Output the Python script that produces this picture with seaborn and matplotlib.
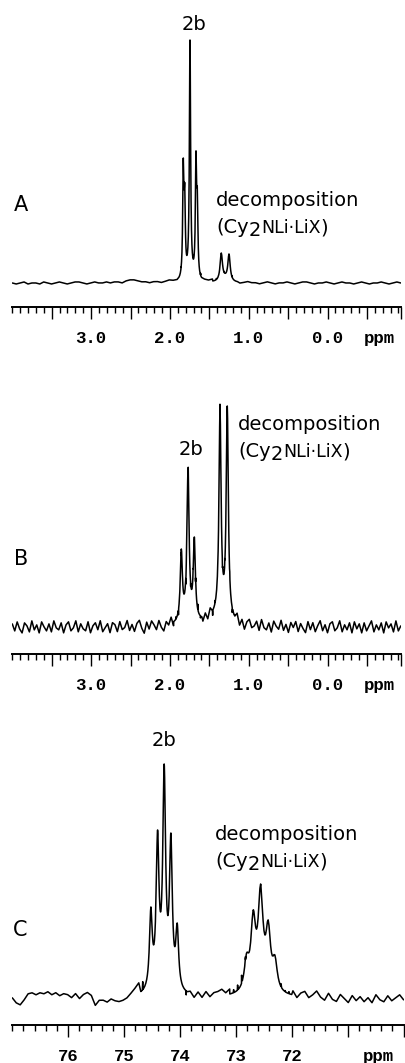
import numpy as np
import pandas as pd
import matplotlib
matplotlib.use("Agg")
import matplotlib.pyplot as plt
from matplotlib.transforms import IdentityTransform
import seaborn as sns

# --- Spectrum A (1H, ppm) ---
a_peak_ppm = [1.830, 1.812, 1.745, 1.669, 1.652, 1.348, 1.250]
a_peak_top = [125, 100, 243, 132, 95, 30, 29]
a_peak_hw = [0.009, 0.009, 0.009, 0.009, 0.009, 0.018, 0.018]
a_broad_ppm = [1.75, 1.30]
a_broad_h = [6, 3]
a_broad_hw = [0.05, 0.05]
a_noise = [0, -1, 0, 1, -1, 0, 0, -1, 1, 0,
           -1, 0, 1, 0, -1, 0, 1, 1, 0, -1,
           0, 1, 0, 0, 1, 0, 1, 1, 0,
           2, 3, 3, 2,
           1, 1, 0, 1, 1, 0, 1, 2,
           1, 0, 1, 0, 1,
           2, 1, 2, 1, 1, 2, 1, 1,
           1, 0, 1, 0, -1, 0, 1, 0, 0, -1, 0, 1, 0, -1, 0, 0, 1, 0, -1, 0,
           1, 1, 0, -1, 0, 0, 1, 0, -1, 0, 1, 0, 0, -1, 0, 1, 0, -1, 0, 0,
           1, 0, -1, 0, 1, 0]

# --- Spectrum B (1H, ppm) ---
b_peak_ppm = [1.855, 1.770, 1.690, 1.364, 1.272]
b_peak_top = [78, 158, 90, 218, 221]
b_peak_hw = [0.016, 0.016, 0.016, 0.016, 0.016]
b_broad_ppm = [1.78, 1.40]
b_broad_h = [6, 9]
b_broad_hw = [0.08, 0.18]
b_noise = [3, -4, 5, -2, -6, 4, 1, -5, 6, -3,
           2, -6, 5, 0, -4, 3, -5, 6, -1, -3,
           4, -6, 2, 5, -4, -1, 6, -5, 3, -2,
           -4, 5, -6, 1, 4, -3, 6, -5, -1, 3,
           -6, 4, 2, -5, 5, -3, -1, 6, -4, 2,
           -5, 3, 6, -2, -7, 4, -3, 5, 1, -4,
           5, -2, -6, 3, -1, 6, -4, 2, -5, 4,
           1, -6, 5, -3, 3, -5, 6, -2, -4, 4,
           -3, 6, -5, 2, -1, 5, -6, 3, -2, 4,
           -5, 1, 6, -4, 3, -6, 2, 5, -3, -1,
           4, -5, 6, -2, -4, 3, -6, 5, 0, -3,
           6, -4, 2, -6, 4, -1, 5, -5, 3, -2,
           -6, 5, -3, 4, -5, 1, 6, -4, 2, -6,
           3, 5, -4, -1, 6, -5, 2, -3, 4, -6,
           5, -2, 3, -6, 4, -4, 1, 6, -5, 2,
           -3, 4, -6, 5, -1, 3, -5, 6, -4, 1]

# --- Spectrum C (13C, ppm) ---
c_peak_ppm = [74.521, 74.401, 74.283, 74.163, 74.050,
              72.809, 72.690, 72.558, 72.422, 72.302]
c_peak_top = [91, 168, 234, 165, 75, 45, 88, 114, 78, 43]
c_peak_hw = [0.03] * 5 + [0.05] * 5
c_broad_ppm = [74.30, 72.56]
c_broad_h = [10, 10]
c_broad_hw = [0.15, 0.15]
c_noise = [0, -5, -7, -2, 4, 5, 3, 5, 4, 6, 3, 5, 2, 4,
           3, 0, 4, -1, 3, 5, 2, -8, -3, -3, -5, -2, -4, -5,
           -4, -2, 2, 6, 10, 8,
           0, 0, 0, 0, 0, 0, 0, 0, 0, 0,
           -4, 2, -3, 3, -2, 4, -1, 3, 4, 6, 2, 5, 3, 5, 8, 3,
           0, 0, 0, 0, 0, 0, 0, 0,
           3, 1, 2,
           4, -2, 3, 5, -1, 2, 6, 0, -3, 4, -2, -4, 3, -1, -5, 2, -3, 1,
           -4, 0, -5, 3, -2, -4, 2, -3, 0, 3, -2]

W, H = 406, 1063


def lorentz(x, c, h, w):
    return h * w ** 2 / ((x - c) ** 2 + w ** 2)


def build_spectrum(lo, hi, ppm, top, hw, b_ppm, b_h, b_hw, noise):
    ppm = np.asarray(ppm, float)
    hw = np.asarray(hw, float)
    top = np.asarray(top, float)
    # amplitudes so that the summed curve reaches the read peak tops
    broad_at = sum(lorentz(ppm, c, h, w) for c, h, w in zip(b_ppm, b_h, b_hw))
    m = hw[None, :] ** 2 / ((ppm[:, None] - ppm[None, :]) ** 2 + hw[None, :] ** 2)
    amp = np.linalg.solve(m, top - broad_at)

    coarse = np.linspace(lo, hi, len(noise))
    dense = np.concatenate([c + w * np.linspace(-6, 6, 41) for c, w in zip(ppm, hw)])
    x = np.concatenate([coarse, dense])
    n = np.concatenate([np.asarray(noise, float), np.zeros(len(dense))])
    y = sum(lorentz(x, c, a, w) for c, a, w in zip(ppm, amp, hw))
    y = y + sum(lorentz(x, c, h, w) for c, h, w in zip(b_ppm, b_h, b_hw)) + n
    return pd.DataFrame({"ppm": x, "signal": y})


sns.set_theme(style="white")
plt.rcParams["font.family"] = ["DejaVu Sans"]
plt.rcParams["text.color"] = "black"
plt.rcParams["xtick.color"] = "black"
plt.rcParams["xtick.labelcolor"] = "black"

fig = plt.figure(figsize=(W / 100, H / 100), dpi=100)


def make_axes(left, right, top, bottom):
    ax = fig.add_axes([left / W, 1 - bottom / H, (right - left) / W, (bottom - top) / H])
    ax.patch.set_visible(False)
    return ax


tick_font = dict(fontfamily="Liberation Mono", fontweight="bold", fontsize=12.5, color="black")
label_pad = 8.5


def style_axis(ax, xlim, ylim, majors, labels, minors, ppm_x):
    ax.set_xlim(*xlim)
    ax.set_ylim(*ylim)
    for s in ["top", "left", "right"]:
        ax.spines[s].set_visible(False)
    ax.spines["bottom"].set_linewidth(1.4)
    ax.spines["bottom"].set_color("black")
    ax.set_yticks([])
    ax.set_xticks(majors, labels, **tick_font)
    ax.set_xticks(minors, minor=True)
    ax.tick_params(axis="x", which="major", direction="out", length=8.5, width=1.0,
                   color="black", pad=label_pad, bottom=True)
    ax.tick_params(axis="x", which="minor", direction="out", length=4.3, width=1.0,
                   color="black", bottom=True)
    ax.set_xlabel("")
    ax.set_ylabel("")
    ax.annotate("ppm", xy=(ppm_x, 0), xycoords=("data", "axes fraction"),
                xytext=(0, -(8.5 + label_pad) / 72 * 100), textcoords="offset pixels",
                ha="center", va="top", **tick_font)


def rich_label(ax, x, y, parts):
    fig.canvas.draw()
    renderer = fig.canvas.get_renderer()
    px, py = ax.transData.transform((x, y))
    for s, size, dy in parts:
        t = fig.text(px, py - dy, s, fontsize=size, transform=IdentityTransform(),
                     ha="left", va="baseline", color="black")
        px += t.get_window_extent(renderer).width


def decomp_label(ax, x, y1, y2):
    ax.text(x, y1, "decomposition", fontsize=14, ha="left", va="baseline", color="black")
    rich_label(ax, x, y2, [("(Cy", 14, 0), ("2", 14, 3), ("NLi\u00b7LiX", 12.5, 0), (")", 14, 0)])


# Panel A
ax_a = make_axes(12.3, 400.8, 10, 307)
df_a = build_spectrum(4.0, -0.93, a_peak_ppm, a_peak_top, a_peak_hw,
                      a_broad_ppm, a_broad_h, a_broad_hw, a_noise)
sns.lineplot(data=df_a, x="ppm", y="signal", estimator=None, sort=True,
             color="black", linewidth=1.1, ax=ax_a)
h_majors = [3.5, 3.0, 2.5, 2.0, 1.5, 1.0, 0.5, 0.0, -0.5, -0.93]
h_labels = ["", "3.0", "", "2.0", "", "1.0", "", "0.0", "", ""]
h_minors = np.round(np.arange(-0.9, 4.001, 0.1), 2)
style_axis(ax_a, (4.0, -0.93), (-24, 273), h_majors, h_labels, h_minors, -0.66)

# Panel B
ax_b = make_axes(12.3, 400.8, 360, 654)
df_b = build_spectrum(4.0, -0.93, b_peak_ppm, b_peak_top, b_peak_hw,
                      b_broad_ppm, b_broad_h, b_broad_hw, b_noise)
sns.lineplot(data=df_b, x="ppm", y="signal", estimator=None, sort=True,
             color="black", linewidth=1.1, ax=ax_b)
style_axis(ax_b, (4.0, -0.93), (-27, 267), h_majors, h_labels, h_minors, -0.66)

# Panel C
ax_c = make_axes(12.3, 403.6, 690, 1025)
df_c = build_spectrum(77.0, 70.0, c_peak_ppm, c_peak_top, c_peak_hw,
                      c_broad_ppm, c_broad_h, c_broad_hw, c_noise)
sns.lineplot(data=df_c, x="ppm", y="signal", estimator=None, sort=True,
             color="black", linewidth=1.1, ax=ax_c)
c_majors = [76, 75, 74, 73, 72, 71, 70]
c_labels = ["76", "75", "74", "73", "72", "", ""]
c_minors = np.round(np.arange(70.0, 77.001, 0.2), 1)
style_axis(ax_c, (77.0, 70.0), (-27, 308), c_majors, c_labels, c_minors, 70.45)

# Labels
ax_a.text(3.978, 72, "A", fontsize=15, ha="left", va="baseline", color="black")
ax_a.text(1.694, 253, "2b", fontsize=14, ha="center", va="baseline", color="black")
decomp_label(ax_a, 1.413, 77, 50)

ax_b.text(3.978, 62, "B", fontsize=15, ha="left", va="baseline", color="black")
ax_b.text(1.732, 172, "2b", fontsize=14, ha="center", va="baseline", color="black")
decomp_label(ax_b, 1.136, 197, 170)

ax_c.text(76.99, 62, "C", fontsize=15, ha="left", va="baseline", color="black")
ax_c.text(74.288, 252, "2b", fontsize=14, ha="center", va="baseline", color="black")
decomp_label(ax_c, 73.376, 158, 131)

fig.savefig("out.png", dpi=100)
